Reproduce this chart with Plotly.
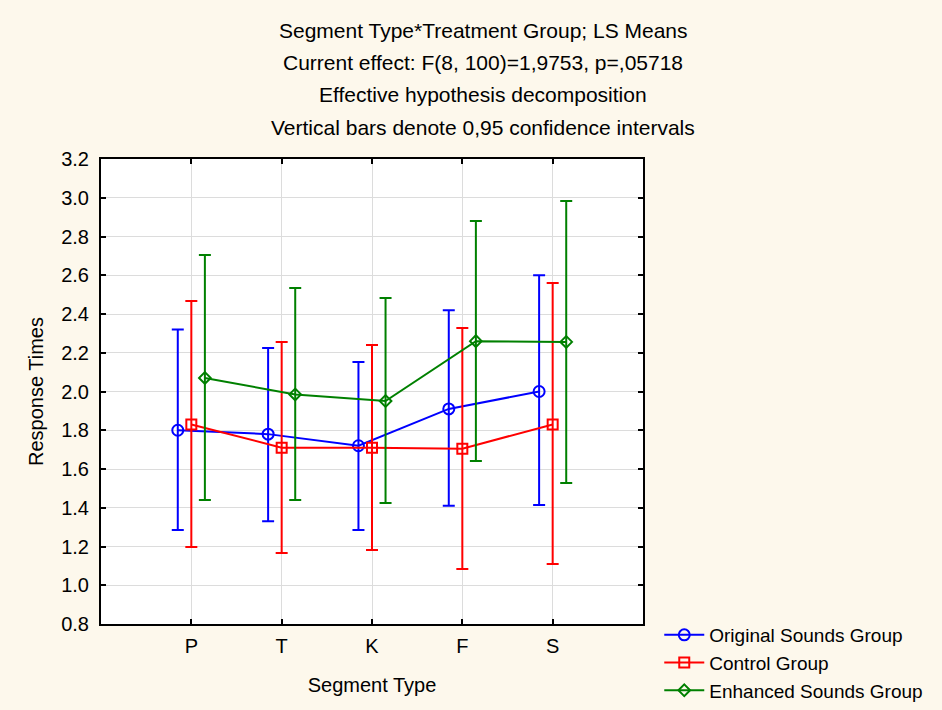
import plotly.graph_objects as go

# Least-squares means of response time by segment type and treatment group,
# with 0.95 confidence limits
segments = ["P", "T", "K", "F", "S"]

original_mean = [1.80, 1.78, 1.72, 1.91, 2.00]
original_upper = [2.32, 2.225, 2.152, 2.42, 2.60]
original_lower = [1.285, 1.33, 1.285, 1.41, 1.414]

control_mean = [1.83, 1.71, 1.71, 1.705, 1.83]
control_upper = [2.467, 2.255, 2.24, 2.328, 2.56]
control_lower = [1.197, 1.166, 1.182, 1.084, 1.11]

enhanced_mean = [2.07, 1.985, 1.951, 2.26, 2.256]
enhanced_upper = [2.705, 2.534, 2.483, 2.88, 2.983]
enhanced_lower = [1.44, 1.44, 1.424, 1.641, 1.528]

y_ticks = [0.8, 1.0, 1.2, 1.4, 1.6, 1.8, 2.0, 2.2, 2.4, 2.6, 2.8, 3.0, 3.2]

title_lines = [
    "Segment Type*Treatment Group; LS Means",
    "Current effect: F(8, 100)=1,9753, p=,05718",
    "Effective hypothesis decomposition",
    "Vertical bars denote 0,95 confidence intervals",
]

groups = [
    ("Original Sounds Group", original_mean, original_upper, original_lower,
     "#0000FF", "circle-open", 11, -0.15),
    ("Control Group", control_mean, control_upper, control_lower,
     "#FF0000", "square-open", 10, 0.0),
    ("Enhanced Sounds Group", enhanced_mean, enhanced_upper, enhanced_lower,
     "#008000", "diamond-open", 9, 0.15),
]

FONT = "Liberation Sans, Arial, sans-serif"
PLOT_H = 465.0  # height of the plotting area in px

fig = go.Figure()
for name, mean, upper, lower, color, symbol, msize, shift in groups:
    xs = [i + 1 + shift for i in range(len(segments))]
    fig.add_trace(go.Scatter(
        x=xs, y=mean, name=name, mode="lines+markers",
        line=dict(color=color, width=2),
        marker=dict(symbol=symbol, size=msize, color=color,
                    line=dict(color=color, width=2)),
        error_y=dict(type="data", symmetric=False,
                     array=[u - m for u, m in zip(upper, mean)],
                     arrayminus=[m - l for m, l in zip(mean, lower)],
                     color=color, thickness=2, width=6),
    ))

# Four-line heading, centred over the whole figure
annotations = []
for k, line in enumerate(title_lines):
    annotations.append(dict(
        text=line, xref="paper", yref="paper", x=(483 - 101) / 542.0,
        y=1 + (159 - (30 + 32.4 * k)) / PLOT_H, yanchor="middle",
        xanchor="center", showarrow=False,
        font=dict(family=FONT, size=21, color="#000"),
    ))

fig.update_layout(
    width=942, height=710,
    margin=dict(l=101, r=299, t=159, b=86, autoexpand=False),
    paper_bgcolor="#FDF8EC",
    plot_bgcolor="#FFFFFF",
    font=dict(family=FONT, size=20, color="#000"),
    showlegend=True,
    legend=dict(x=1.03, xanchor="left", y=-(710 - 624) / PLOT_H,
                yanchor="bottom", bgcolor="rgba(0,0,0,0)", font=dict(size=19),
                tracegroupgap=0, itemwidth=40),
    annotations=annotations,
    xaxis=dict(
        range=[0, 6], tickmode="array", tickvals=[1, 2, 3, 4, 5],
        ticktext=segments, showgrid=True, gridcolor="#DCDCDC", gridwidth=1,
        zeroline=False, showline=True, linecolor="#000", linewidth=2,
        mirror="ticks", ticks="inside", ticklen=5, tickwidth=2, tickcolor="#000",
        ticklabelstandoff=3, automargin=False,
        title=dict(text="Segment Type", font=dict(size=20), standoff=22),
    ),
    yaxis=dict(
        range=[0.8, 3.2], tickmode="array", tickvals=y_ticks,
        ticktext=[f"{v:.1f}" for v in y_ticks],
        showgrid=True, gridcolor="#DCDCDC", gridwidth=1,
        zeroline=False, showline=True, linecolor="#000", linewidth=2,
        mirror="ticks", ticks="inside", ticklen=5, tickwidth=2, tickcolor="#000",
        ticklabelstandoff=6, automargin=False,
        title=dict(text="Response Times", font=dict(size=20), standoff=12),
    ),
)

fig.write_html("out.html")
